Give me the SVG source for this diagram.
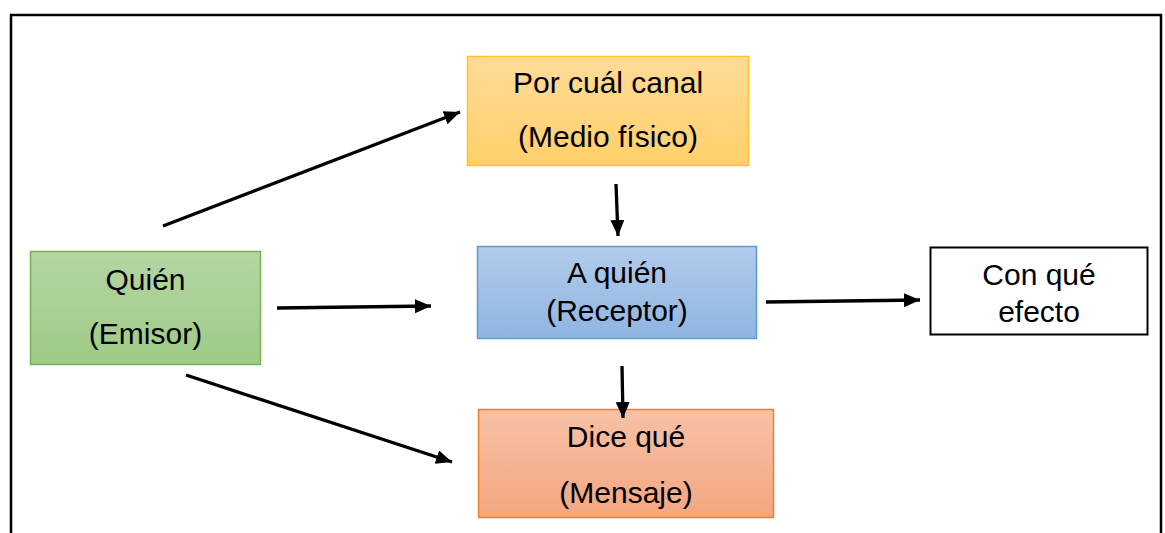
<svg xmlns="http://www.w3.org/2000/svg" width="1165" height="533" viewBox="0 0 1165 533">
<style>
text{font-family:"Liberation Sans",Arial,sans-serif;font-size:30px;fill:#000;text-anchor:middle}
.c{stroke:#000;stroke-width:3.3;fill:none;marker-end:url(#ah)}
</style>
<defs>
<linearGradient id="gG" x1="0" y1="0" x2="0" y2="1"><stop offset="0" stop-color="#b5d6a3"/><stop offset="1" stop-color="#9dca86"/></linearGradient>
<linearGradient id="gY" x1="0" y1="0" x2="0" y2="1"><stop offset="0" stop-color="#ffdb98"/><stop offset="1" stop-color="#ffd06a"/></linearGradient>
<linearGradient id="gB" x1="0" y1="0" x2="0" y2="1"><stop offset="0" stop-color="#b2cbea"/><stop offset="1" stop-color="#8fb5e2"/></linearGradient>
<linearGradient id="gO" x1="0" y1="0" x2="0" y2="1"><stop offset="0" stop-color="#f8c1a6"/><stop offset="1" stop-color="#f4a67f"/></linearGradient>
<marker id="ah" markerUnits="userSpaceOnUse" markerWidth="17" markerHeight="15" refX="16" refY="7" orient="auto"><path d="M0,0 L16,7 L0,14 z" fill="#000"/></marker>
</defs>
<rect x="0" y="0" width="1165" height="533" fill="#fff"/>
<rect x="11" y="15" width="1150" height="540" fill="none" stroke="#000" stroke-width="2.5"/>
<g id="quien">
<rect x="30.5" y="251.5" width="230" height="113" fill="url(#gG)" stroke="#76b152" stroke-width="1.5"/>
<text x="145.5" y="290">Quién</text>
<text x="145.5" y="344">(Emisor)</text>
</g>
<g id="canal">
<rect x="467.5" y="56.5" width="281" height="109" fill="url(#gY)" stroke="#ffc526" stroke-width="1.5"/>
<text x="608" y="93">Por cuál canal</text>
<text x="608" y="147">(Medio físico)</text>
</g>
<g id="receptor">
<rect x="477.5" y="246.5" width="279" height="92" fill="url(#gB)" stroke="#5b9bd5" stroke-width="1.5"/>
<text x="617" y="283">A quién</text>
<text x="617" y="321">(Receptor)</text>
</g>
<g id="mensaje">
<rect x="478.5" y="409.5" width="295" height="108" fill="url(#gO)" stroke="#ed7d31" stroke-width="1.5"/>
<text x="626" y="447">Dice qué</text>
<text x="626" y="503">(Mensaje)</text>
</g>
<g id="efecto">
<rect x="930.5" y="247.5" width="217" height="87" fill="#fff" stroke="#000" stroke-width="2"/>
<text x="1039" y="285">Con qué</text>
<text x="1039" y="322">efecto</text>
</g>
<g id="connectors">
<line class="c" x1="163" y1="226" x2="460" y2="112"/>
<line class="c" x1="277" y1="308" x2="431" y2="306"/>
<line class="c" x1="186" y1="375" x2="452" y2="462"/>
<line class="c" x1="616" y1="184" x2="618" y2="236"/>
<line class="c" x1="622" y1="366" x2="623" y2="418"/>
<line class="c" x1="766" y1="302" x2="920" y2="300"/>
</g>
</svg>
